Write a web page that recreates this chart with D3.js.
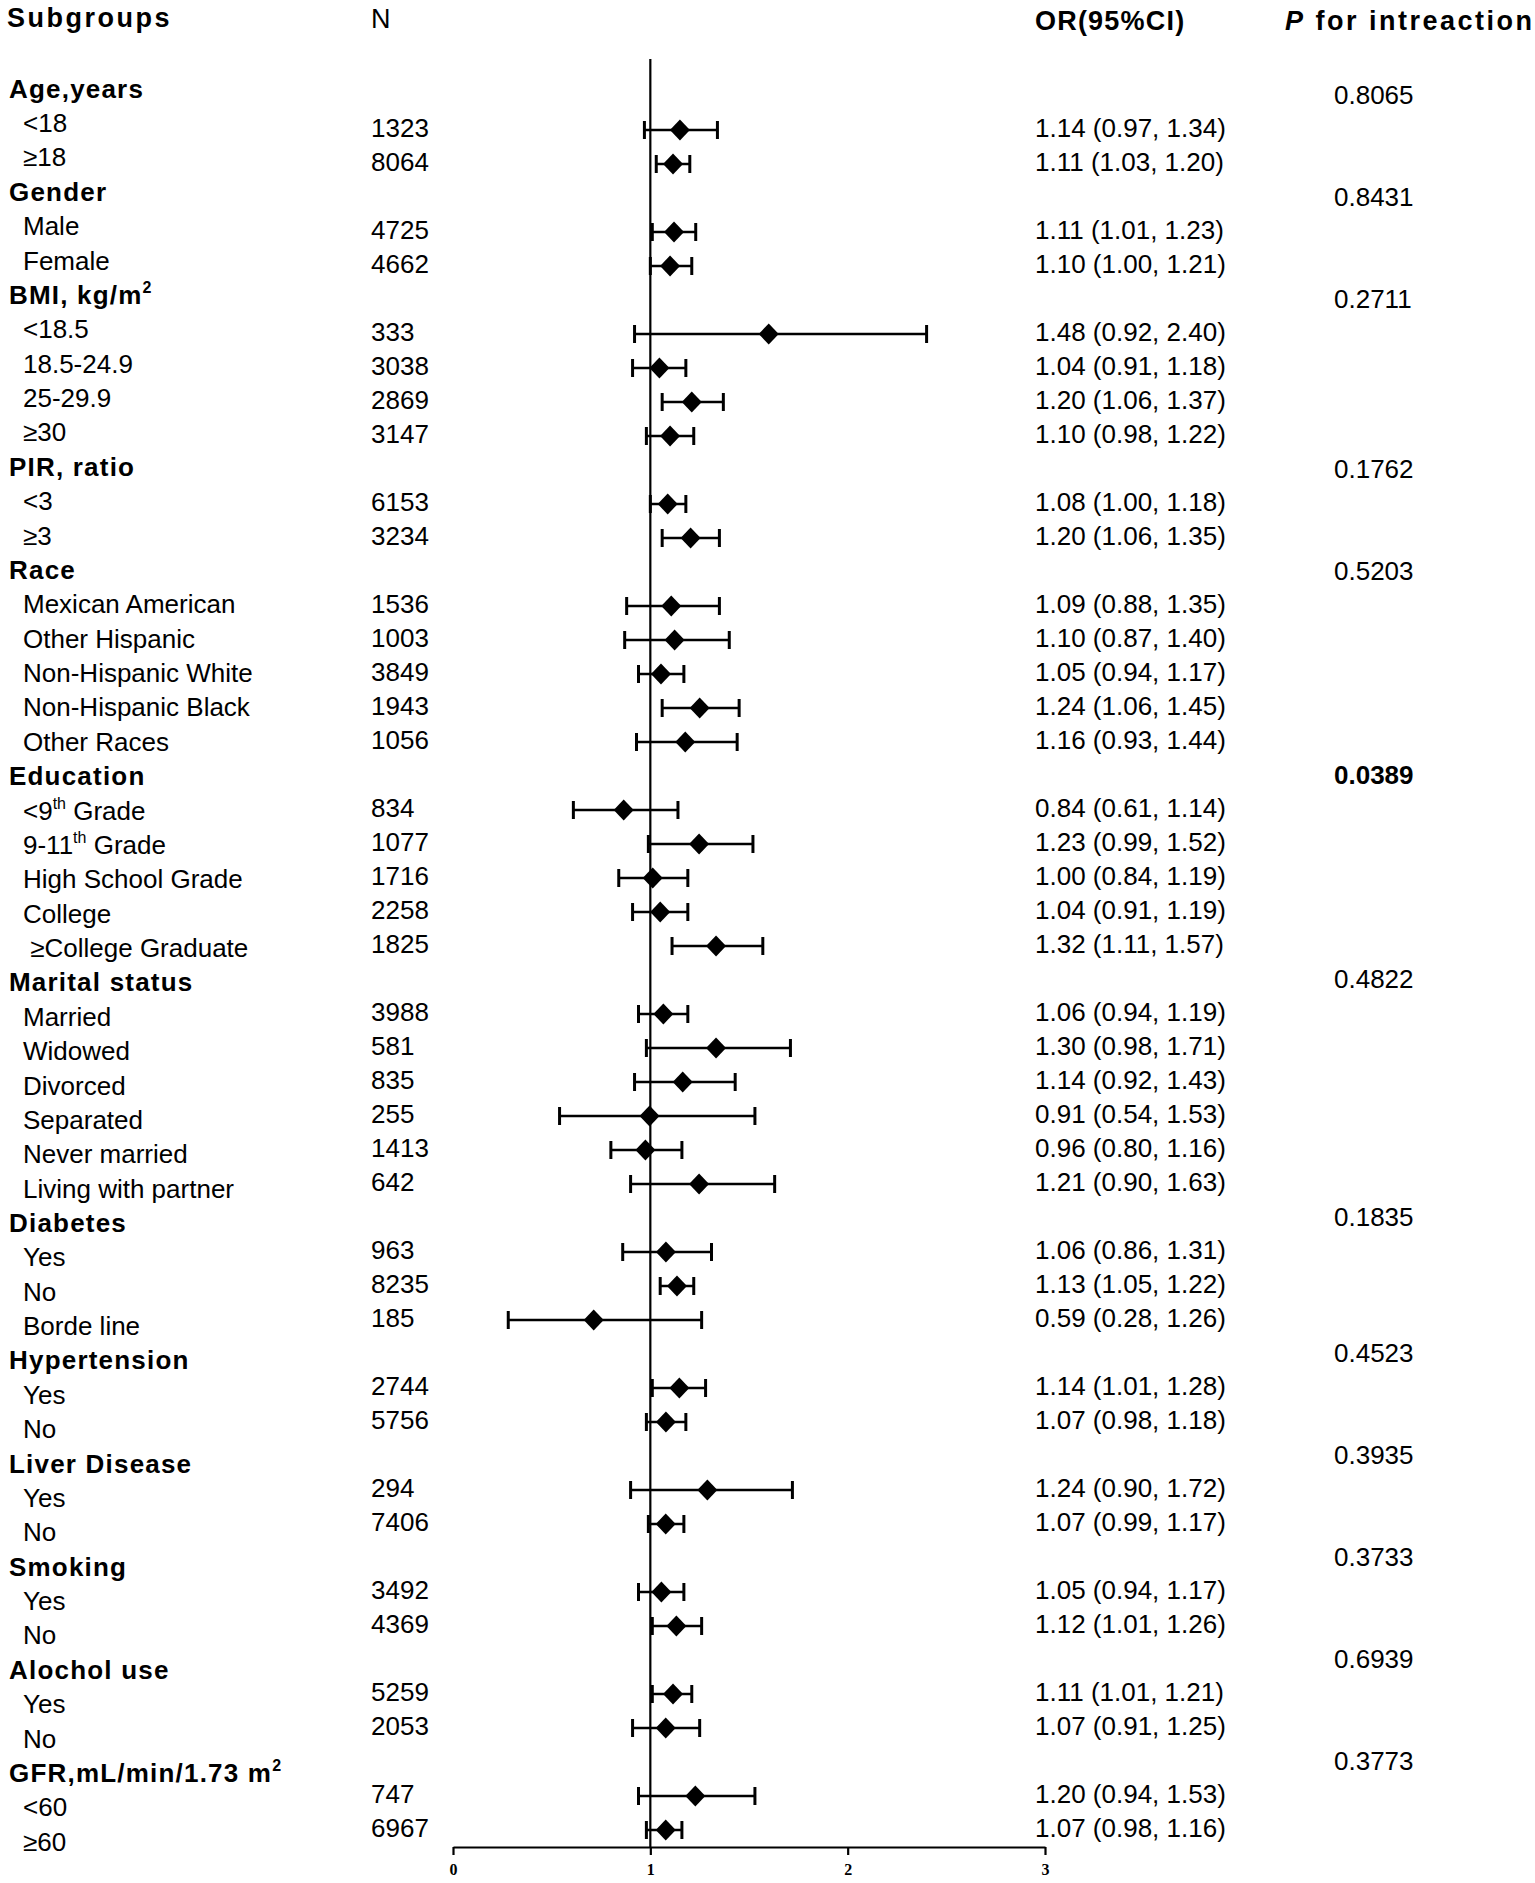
<!DOCTYPE html>
<head>
  <meta charset="utf-8">
  <script src="https://d3js.org/d3.v7.min.js"></script>
  <style>
    body { margin: 0; background: #fff; }
    text { font-family: "Liberation Sans", Arial, sans-serif; fill: #000; white-space: pre; }
    .colHead { font-size: 27px; font-weight: 700; letter-spacing: 2.5px; }
    .groupLabel { font-size: 26px; font-weight: 700; letter-spacing: 1.2px; }
    .cell { font-size: 26px; }
    .axis text { font-family: "Liberation Serif", "Times New Roman", serif; font-size: 16px; font-weight: 700; }
    .axis path, .axis line { stroke: #000; stroke-width: 2.2; }
  </style>
</head>

<body>
<div id="forest"></div>

<script>

///////////////////////////////////////////////////////////////////////////
//////////////////////////////// Data /////////////////////////////////////
///////////////////////////////////////////////////////////////////////////

// {..} marks superscript
const groupNames = ["Age,years", "Gender", "BMI, kg/m{2}", "PIR, ratio", "Race", "Education",
  "Marital status", "Diabetes", "Hypertension", "Liver Disease", "Smoking", "Alochol use",
  "GFR,mL/min/1.73 m{2}"];

const pInteraction = ["0.8065", "0.8431", "0.2711", "0.1762", "0.5203", "0.0389",
  "0.4822", "0.1835", "0.4523", "0.3935", "0.3733", "0.6939", "0.3773"];
const pSignificant = ["0.0389"];

const itemLabels = [
  ["<18", "≥18"],
  ["Male", "Female"],
  ["<18.5", "18.5-24.9", "25-29.9", "≥30"],
  ["<3", "≥3"],
  ["Mexican American", "Other Hispanic", "Non-Hispanic White", "Non-Hispanic Black", "Other Races"],
  ["<9{th} Grade", "9-11{th} Grade", "High School Grade", "College", " ≥College Graduate"],
  ["Married", "Widowed", "Divorced", "Separated", "Never married", "Living with partner"],
  ["Yes", "No", "Borde line"],
  ["Yes", "No"],
  ["Yes", "No"],
  ["Yes", "No"],
  ["Yes", "No"],
  ["<60", "≥60"]
];

const nValues = [
  [1323, 8064], [4725, 4662], [333, 3038, 2869, 3147], [6153, 3234],
  [1536, 1003, 3849, 1943, 1056], [834, 1077, 1716, 2258, 1825],
  [3988, 581, 835, 255, 1413, 642], [963, 8235, 185], [2744, 5756],
  [294, 7406], [3492, 4369], [5259, 2053], [747, 6967]
];

const orValues = [
  [1.14, 1.11], [1.11, 1.10], [1.48, 1.04, 1.20, 1.10], [1.08, 1.20],
  [1.09, 1.10, 1.05, 1.24, 1.16], [0.84, 1.23, 1.00, 1.04, 1.32],
  [1.06, 1.30, 1.14, 0.91, 0.96, 1.21], [1.06, 1.13, 0.59], [1.14, 1.07],
  [1.24, 1.07], [1.05, 1.12], [1.11, 1.07], [1.20, 1.07]
];

const ciLower = [
  [0.97, 1.03], [1.01, 1.00], [0.92, 0.91, 1.06, 0.98], [1.00, 1.06],
  [0.88, 0.87, 0.94, 1.06, 0.93], [0.61, 0.99, 0.84, 0.91, 1.11],
  [0.94, 0.98, 0.92, 0.54, 0.80, 0.90], [0.86, 1.05, 0.28], [1.01, 0.98],
  [0.90, 0.99], [0.94, 1.01], [1.01, 0.91], [0.94, 0.98]
];

const ciUpper = [
  [1.34, 1.20], [1.23, 1.21], [2.40, 1.18, 1.37, 1.22], [1.18, 1.35],
  [1.35, 1.40, 1.17, 1.45, 1.44], [1.14, 1.52, 1.19, 1.19, 1.57],
  [1.19, 1.71, 1.43, 1.53, 1.16, 1.63], [1.31, 1.22, 1.26], [1.28, 1.18],
  [1.72, 1.17], [1.17, 1.26], [1.21, 1.25], [1.53, 1.16]
];

// where the diamonds actually sit in the figure (read off the plot,
// they drift a little from the printed OR)
const diamondPos = [
  [1.15, 1.115], [1.12, 1.10], [1.60, 1.046, 1.21, 1.10], [1.088, 1.204],
  [1.106, 1.123, 1.054, 1.25, 1.177], [0.865, 1.247, 1.012, 1.05, 1.333],
  [1.066, 1.333, 1.164, 0.996, 0.975, 1.247], [1.079, 1.135, 0.713], [1.147, 1.079],
  [1.289, 1.078], [1.056, 1.132], [1.115, 1.078], [1.228, 1.078]
];

const xTicks = [0, 1, 2, 3];

///////////////////////////////////////////////////////////////////////////
////////////////////////// Build the row table ////////////////////////////
///////////////////////////////////////////////////////////////////////////

const rows = [];
groupNames.forEach((g, gi) => {
  rows.push({ header: true, label: g, p: pInteraction[gi] });
  itemLabels[gi].forEach((lab, ii) => {
    rows.push({
      header: false, label: lab, n: nValues[gi][ii],
      or: orValues[gi][ii], lo: ciLower[gi][ii], hi: ciUpper[gi][ii],
      pos: diamondPos[gi][ii]
    });
  });
});
rows.forEach((r, i) => r.idx = i);

///////////////////////////////////////////////////////////////////////////
////////////////////////////// Set up svg /////////////////////////////////
///////////////////////////////////////////////////////////////////////////

const width = 1535, height = 1883;
const last = rows.length - 1;

const svg = d3.select("#forest").append("svg")
  .attr("width", width)
  .attr("height", height);

const x = d3.scaleLinear().domain([0, 3]).range([453, 1045]);
// row centres for the plot / number columns
const yData = d3.scaleLinear().domain([0, last]).range([96, 1830]);
// label baselines of the subgroup column (spaced slightly wider in the figure)
const yLabel = d3.scaleLinear().domain([0, last]).range([97.7, 1850.7]);
const axisY = 1847;

const colN = 371, colOR = 1035, colP = 1334;
const f2 = d3.format(".2f");

///////////////////////////////////////////////////////////////////////////
//////////////////////////// Column headers ///////////////////////////////
///////////////////////////////////////////////////////////////////////////

svg.append("text").attr("class", "colHead").attr("x", 7).attr("y", 27).text("Subgroups");
svg.append("text").attr("class", "cell").attr("x", colN).attr("y", 28)
  .style("font-size", "27px").text("N");
svg.append("text").attr("class", "colHead").attr("x", 1035).attr("y", 30)
  .style("letter-spacing", "1.2px").text("OR(95%CI)");
const pHead = svg.append("text").attr("class", "colHead").attr("x", 1285).attr("y", 30);
pHead.append("tspan").style("font-style", "italic").text("P");
pHead.append("tspan").text(" for intreaction");

///////////////////////////////////////////////////////////////////////////
//////////////////////////// Subgroup labels //////////////////////////////
///////////////////////////////////////////////////////////////////////////

function writeLabel(sel, str, size) {
  const parts = str.split(/\{(.*?)\}/);
  let shifted = false;
  parts.forEach((p, i) => {
    if (p === "") return;
    const t = sel.append("tspan").text(p);
    if (i % 2 === 1) {
      t.attr("dy", -11).style("font-size", Math.round(size * 0.62) + "px");
      shifted = true;
    } else if (shifted) {
      t.attr("dy", 11);
      shifted = false;
    }
  });
}

rows.forEach(r => {
  const t = svg.append("text")
    .attr("class", r.header ? "groupLabel" : "cell")
    .attr("x", r.header ? 9 : 23)
    .attr("y", yLabel(r.idx));
  writeLabel(t, r.label, 26);
});

///////////////////////////////////////////////////////////////////////////
/////////////////////////// Number columns ////////////////////////////////
///////////////////////////////////////////////////////////////////////////

const items = rows.filter(r => !r.header);
const heads = rows.filter(r => r.header);

svg.selectAll(".nVal").data(items).enter().append("text")
  .attr("class", "cell nVal")
  .attr("x", colN)
  .attr("y", d => yData(d.idx) + 7)
  .text(d => d.n);

svg.selectAll(".orVal").data(items).enter().append("text")
  .attr("class", "cell orVal")
  .attr("x", colOR)
  .attr("y", d => yData(d.idx) + 7)
  .text(d => `${f2(d.or)} (${f2(d.lo)}, ${f2(d.hi)})`);

svg.selectAll(".pVal").data(heads).enter().append("text")
  .attr("class", "cell pVal")
  .attr("x", colP)
  .attr("y", d => yData(d.idx) + 8)
  .style("font-weight", d => pSignificant.includes(d.p) ? 700 : 400)
  .text(d => d.p);

///////////////////////////////////////////////////////////////////////////
////////////////////////////// Forest plot ////////////////////////////////
///////////////////////////////////////////////////////////////////////////

svg.append("line")
  .attr("x1", x(1)).attr("x2", x(1))
  .attr("y1", 59).attr("y2", axisY)
  .style("stroke", "#000").style("stroke-width", 2.2);

const capH = 9;
const ci = svg.selectAll(".ci").data(items).enter().append("g").attr("class", "ci")
  .style("stroke", "#000");

ci.append("line")
  .attr("x1", d => x(d.lo)).attr("x2", d => x(d.hi))
  .attr("y1", d => yData(d.idx)).attr("y2", d => yData(d.idx))
  .style("stroke-width", 2.6);

ci.append("line")
  .attr("x1", d => x(d.lo)).attr("x2", d => x(d.lo))
  .attr("y1", d => yData(d.idx) - capH).attr("y2", d => yData(d.idx) + capH)
  .style("stroke-width", 3);

ci.append("line")
  .attr("x1", d => x(d.hi)).attr("x2", d => x(d.hi))
  .attr("y1", d => yData(d.idx) - capH).attr("y2", d => yData(d.idx) + capH)
  .style("stroke-width", 3);

const dw = 10, dh = 10.5;
svg.selectAll(".diamond").data(items).enter().append("path")
  .attr("class", "diamond")
  .attr("d", d => {
    const cx = x(d.pos), cy = yData(d.idx);
    return `M${cx},${cy - dh}L${cx + dw},${cy}L${cx},${cy + dh}L${cx - dw},${cy}Z`;
  })
  .style("fill", "#000");

const axis = svg.append("g")
  .attr("class", "axis")
  .attr("transform", `translate(0,${axisY})`)
  .call(d3.axisBottom(x).tickValues(xTicks).tickFormat(d3.format("d"))
    .tickSize(8).tickSizeOuter(0).tickPadding(9));

</script>
</body>
